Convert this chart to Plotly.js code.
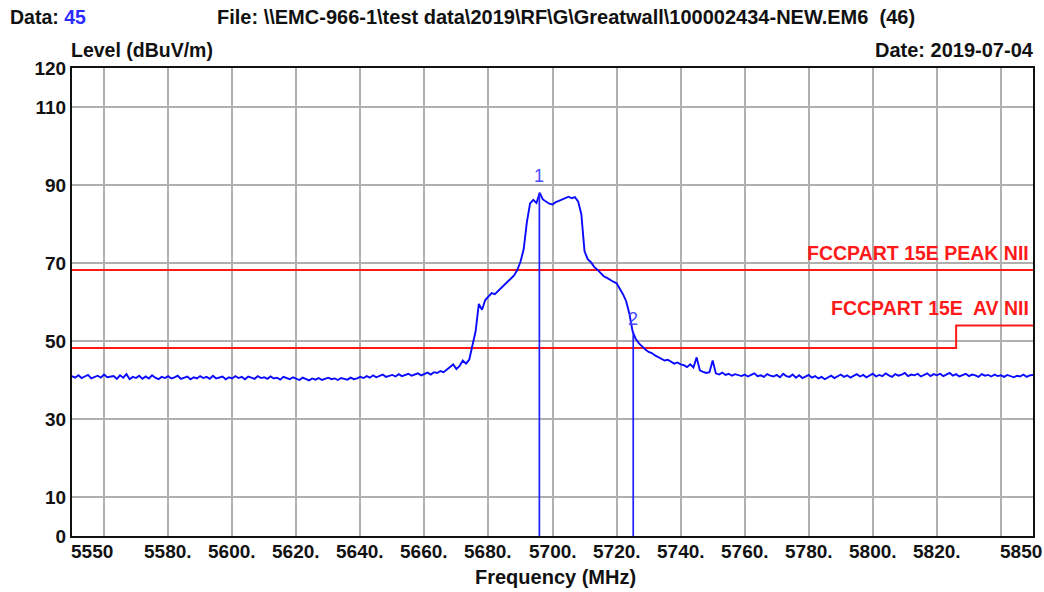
<!DOCTYPE html>
<html>
<head>
<meta charset="utf-8">
<script src="https://cdn.plot.ly/plotly-3.0.1.min.js"></script>
<style>
html,body{margin:0;padding:0;background:#fff;}
#chart{width:1044px;height:592px;}
</style>
</head>
<body>
<div id="chart"></div>
<script>
// ---------- data ----------
const freq = [
5550,5551,5552,5553,5554,5555,5556,5557,5558,5559,
5560,5561,5562,5563,5564,5565,5566,5567,5568,5569,
5570,5571,5572,5573,5574,5575,5576,5577,5578,5579,
5580,5581,5582,5583,5584,5585,5586,5587,5588,5589,
5590,5591,5592,5593,5594,5595,5596,5597,5598,5599,
5600,5601,5602,5603,5604,5605,5606,5607,5608,5609,
5610,5611,5612,5613,5614,5615,5616,5617,5618,5619,
5620,5621,5622,5623,5624,5625,5626,5627,5628,5629,
5630,5631,5632,5633,5634,5635,5636,5637,5638,5639,
5640,5641,5642,5643,5644,5645,5646,5647,5648,5649,
5650,5651,5652,5653,5654,5655,5656,5657,5658,5659,
5660,5661,5662,5663,5664,5665,5666,5667,5668,5669,
5670,5671,5672,5673,5674,5675,5676,5677,5678,5679,
5680,5681,5682,5683,5684,5685,5686,5687,5688,5689,
5690,5691,5692,5693,5694,5695,5696,5697,5698,5699,
5700,5701,5702,5703,5704,5705,5706,5707,5708,5709,
5710,5711,5712,5713,5714,5715,5716,5717,5718,5719,
5720,5721,5722,5723,5724,5725,5726,5727,5728,5729,
5730,5731,5732,5733,5734,5735,5736,5737,5738,5739,
5740,5741,5742,5743,5744,5745,5746,5747,5748,5749,
5750,5751,5752,5753,5754,5755,5756,5757,5758,5759,
5760,5761,5762,5763,5764,5765,5766,5767,5768,5769,
5770,5771,5772,5773,5774,5775,5776,5777,5778,5779,
5780,5781,5782,5783,5784,5785,5786,5787,5788,5789,
5790,5791,5792,5793,5794,5795,5796,5797,5798,5799,
5800,5801,5802,5803,5804,5805,5806,5807,5808,5809,
5810,5811,5812,5813,5814,5815,5816,5817,5818,5819,
5820,5821,5822,5823,5824,5825,5826,5827,5828,5829,
5830,5831,5832,5833,5834,5835,5836,5837,5838,5839,
5840,5841,5842,5843,5844,5845,5846,5847,5848,5849,
5850
];
const level = [
41.0,40.6,41.2,40.5,40.9,41.3,40.4,40.8,41.1,40.6,
41.4,40.7,40.9,41.0,40.3,41.2,40.6,41.5,40.2,40.8,
40.5,41.1,40.3,40.9,40.4,41.2,40.6,40.2,40.8,40.5,
41.0,40.4,40.7,41.1,40.3,40.6,40.9,40.2,40.7,40.4,
41.0,40.5,40.8,40.3,41.1,40.4,40.6,40.9,40.2,40.7,
40.4,41.0,40.5,40.8,40.2,40.9,40.6,40.3,41.0,40.5,
40.7,40.3,40.9,40.4,40.6,40.1,40.8,40.5,40.2,40.7,
40.3,40.0,40.6,40.2,39.9,40.4,40.1,40.5,40.0,40.3,
40.6,40.2,40.4,40.0,40.5,40.3,40.1,40.6,40.2,40.4,
40.8,40.5,41.0,40.6,41.2,40.7,41.0,41.4,40.8,41.1,
41.3,40.9,41.5,41.0,41.3,41.6,41.1,41.4,41.7,41.2,
41.5,41.9,41.4,42.0,41.8,42.3,42.0,42.6,43.2,44.0,
42.8,43.6,45.0,44.2,45.2,49.0,52.5,59.5,58.0,60.5,
61.5,62.3,62.0,62.8,63.5,64.2,65.0,65.8,66.8,68.2,
70.3,73.5,80.5,85.3,86.2,85.4,88.0,86.3,85.8,85.2,
85.0,85.6,85.9,86.3,86.8,87.0,86.6,86.9,85.8,82.5,
73.0,71.0,70.2,69.0,68.3,67.5,66.6,66.2,65.6,65.2,
64.8,63.5,62.0,60.2,57.0,52.5,50.5,49.4,48.5,47.8,
47.2,46.9,46.3,45.8,45.4,45.0,45.2,44.6,44.2,44.5,
44.0,43.8,43.3,44.0,43.2,45.8,42.5,42.1,41.8,42.0,
45.0,41.7,41.4,41.9,41.3,41.6,41.1,41.5,41.2,41.0,
41.4,40.9,41.3,41.7,41.0,41.2,40.8,41.5,41.1,40.9,
41.3,40.7,41.6,41.0,40.8,41.4,40.6,41.2,40.5,40.9,
41.3,40.6,41.0,40.4,40.8,40.2,40.7,41.1,40.5,40.9,
41.4,40.8,41.2,40.6,41.0,41.5,40.9,41.3,40.7,41.1,
41.6,40.9,41.3,41.0,41.7,41.2,40.8,41.5,41.1,41.4,
41.8,41.0,41.4,41.2,41.6,40.9,41.3,41.7,41.0,41.5,
41.2,41.6,41.0,41.3,41.8,41.1,41.5,40.9,41.3,41.6,
41.0,41.4,41.2,40.8,41.5,41.1,41.3,40.9,41.4,41.0,
41.2,40.8,41.3,41.0,40.7,41.1,40.9,41.4,40.8,41.2,
41.3
];
const peakLimitFreq  = [5550, 5850];
const peakLimitLevel = [68.2, 68.2];
const avLimitFreq    = [5550, 5826, 5826, 5850];
const avLimitLevel   = [48.2, 48.2, 54.0, 54.0];
const peakLimitName  = "FCCPART 15E PEAK NII";
const avLimitName    = "FCCPART 15E\u00a0 AV NII";
const markerFreq  = [5695.9, 5725.2];
const markerLevel = [88.0, 52.5];
const markerLabel = ["1", "2"];
const xGridVals   = [5560,5580,5600,5620,5640,5660,5680,5700,5720,5740,5760,5780,5800,5820,5840];
const xLabelVals  = [5550,5580,5600,5620,5640,5660,5680,5700,5720,5740,5760,5780,5800,5820,5850];
const xLabelText  = ["5550","5580.","5600.","5620.","5640.","5660.","5680.","5700.","5720.","5740.","5760.","5780.","5800.","5820.","5850"];
const yTickVals   = [0,10,30,50,70,90,110,120];
const yTickText   = ["0","10","30","50","70","90","110","120"];
const dataNo   = "45";
const fileText = "File: \\\\EMC-966-1\\test data\\2019\\RF\\G\\Greatwall\\100002434-NEW.EM6\u00a0 (46)";
const dateText = "Date: 2019-07-04";
const yTitle   = "Level (dBuV/m)";
const xTitle   = "Frequency (MHz)";

// ---------- layout helpers ----------
const FONT = "Arial, 'Liberation Sans', sans-serif";
const W = 1044, H = 592, L = 72, R = 1033, T = 68, B = 536;
const px2paperX = p => (p - L) / (R - L);
const px2paperY = p => (B - p) / (B - T);
const bold = (size, color) => ({family: FONT, size: size, color: color || "#111", weight: "bold"});

const mx = [], my = [];
markerFreq.forEach((f, i) => { mx.push(f, f, null); my.push(0, markerLevel[i], null); });

const traces = [
  {x: peakLimitFreq, y: peakLimitLevel, mode: "lines", line: {color: "#ff1a1a", width: 2}, hoverinfo: "skip"},
  {x: avLimitFreq, y: avLimitLevel, mode: "lines", line: {color: "#ff1a1a", width: 2}, hoverinfo: "skip"},
  {x: freq, y: level, mode: "lines", line: {color: "#0a0aff", width: 1.9}},
  {x: mx, y: my, mode: "lines", line: {color: "#1f1fff", width: 1.7}, hoverinfo: "skip"}
];

const ann = [];
// x tick labels (first and last are left-aligned, like the instrument software draws them)
xLabelVals.forEach((v, i) => {
  const first = i === 0, last = i === xLabelVals.length - 1;
  ann.push({xref: "x", yref: "paper", x: last ? xGridVals[xGridVals.length - 1] : v, y: 0, yshift: -3,
            xshift: first ? -3 : (last ? -3 : 0),
            xanchor: (first || last) ? "left" : "center", yanchor: "top",
            text: xLabelText[i], showarrow: false, font: bold(19)});
});
// titles
ann.push({xref: "paper", yref: "paper", x: px2paperX(10), y: px2paperY(17), xshift: -2, xanchor: "left", yanchor: "middle",
          text: "Data: <span style='color:#2b2bff'>" + dataNo + "</span>", showarrow: false, font: bold(19.5)});
ann.push({xref: "paper", yref: "paper", x: px2paperX(217), y: px2paperY(17), xshift: -2, xanchor: "left", yanchor: "middle",
          text: fileText, showarrow: false, font: bold(20)});
ann.push({xref: "paper", yref: "paper", x: px2paperX(1036), y: px2paperY(50), xanchor: "right", yanchor: "middle",
          text: dateText, showarrow: false, font: bold(20)});
ann.push({xref: "paper", yref: "paper", x: 0, y: px2paperY(50), xshift: -3, xanchor: "left", yanchor: "middle",
          text: yTitle, showarrow: false, font: bold(19.5)});
ann.push({xref: "paper", yref: "paper", x: px2paperX(555), y: px2paperY(577), xanchor: "center", yanchor: "middle",
          text: xTitle, showarrow: false, font: bold(20)});
// limit labels
ann.push({xref: "paper", yref: "y", x: px2paperX(1031), y: peakLimitLevel[1], yshift: 4, xanchor: "right", yanchor: "bottom",
          text: peakLimitName, showarrow: false, font: bold(19.5, "#ff1a1a")});
ann.push({xref: "paper", yref: "y", x: px2paperX(1031), y: avLimitLevel[3], yshift: 4, xanchor: "right", yanchor: "bottom",
          text: avLimitName, showarrow: false, font: bold(19.5, "#ff1a1a")});
// marker labels
const mShift = [5, 0];
markerFreq.forEach((f, i) => {
  ann.push({xref: "x", yref: "y", x: f, y: markerLevel[i], yshift: mShift[i], xanchor: "center", yanchor: "bottom",
            text: markerLabel[i], showarrow: false, font: {family: FONT, size: 18, color: "#4a4aff"}});
});

const layout = {
  width: W, height: H,
  margin: {l: L, r: W - R, t: T, b: H - B, pad: 0},
  paper_bgcolor: "#ffffff", plot_bgcolor: "#ffffff",
  showlegend: false,
  xaxis: {
    range: [5550, 5850], tickmode: "array", tickvals: xGridVals,
    showticklabels: false,
    showgrid: true, gridcolor: "#b0b0b0", gridwidth: 2,
    showline: true, linecolor: "#111", linewidth: 2, mirror: true,
    ticks: "", zeroline: false, fixedrange: true
  },
  yaxis: {
    range: [0, 120], tickmode: "array", tickvals: yTickVals, ticktext: yTickText,
    showgrid: true, gridcolor: "#b0b0b0", gridwidth: 2,
    showline: true, linecolor: "#111", linewidth: 2, mirror: true,
    ticks: "", tickfont: bold(19), zeroline: false, fixedrange: true
  },
  annotations: ann
};

Plotly.newPlot("chart", traces, layout, {staticPlot: true, displayModeBar: false});
</script>
</body>
</html>
